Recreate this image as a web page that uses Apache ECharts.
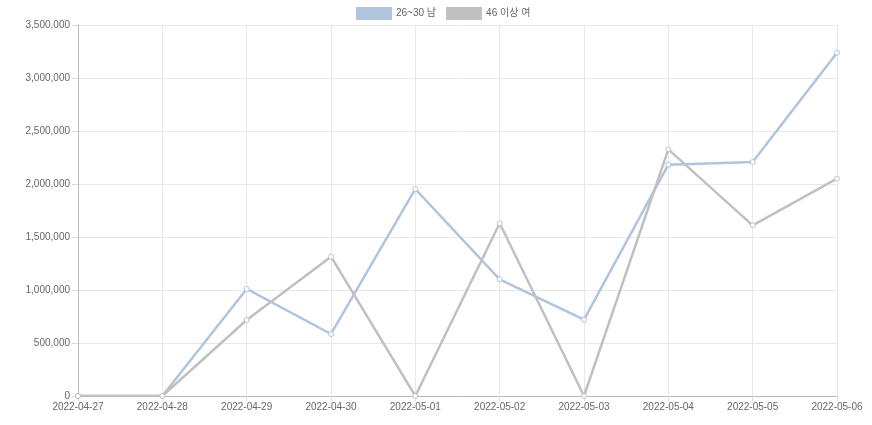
<!DOCTYPE html>
<html>
<head>
<meta charset="utf-8">
<title>chart</title>
<script src="https://cdn.jsdelivr.net/npm/echarts@6/dist/echarts.min.js"></script>
<style>
  html, body { margin: 0; padding: 0; background: #fff; }
  #chart { width: 872px; height: 425px; }
</style>
</head>
<body>
<div id="chart"></div>
<script>
// 날짜 (x축)
var dates = ['2022-04-27', '2022-04-28', '2022-04-29', '2022-04-30', '2022-05-01',
  '2022-05-02', '2022-05-03', '2022-05-04', '2022-05-05', '2022-05-06']
var seriesNames = ['26~30 남', '46 이상 여']
var male2630 = [0, 0, 1010000, 585000, 1953000, 1101000, 720000, 2182000, 2207000, 3239000]
var female46 = [0, 0, 717000, 1314000, 0, 1629000, 0, 2327000, 1610000, 2050000]

var colors = ['#b0c4de', '#c0c0c0']
var font = '"Liberation Sans", Arial, "Noto Sans CJK KR", sans-serif'

var chart = echarts.init(document.getElementById('chart'))

function lineSeries(name, data, color) {
  return {
    name: name,
    type: 'line',
    data: data,
    symbol: 'circle',
    symbolSize: 5,
    showAllSymbol: true,
    itemStyle: { color: '#fff', borderColor: color, borderWidth: 1 },
    lineStyle: { color: color, width: 2.5 },
    emphasis: { disabled: true },
    animation: false
  }
}

chart.setOption({
  textStyle: { fontFamily: font },
  legend: {
    top: 7,
    left: 356,
    padding: 0,
    itemWidth: 34,
    itemHeight: 11,
    itemGap: 10,
    icon: 'rect',
    textStyle: { color: '#666', fontSize: 10, fontFamily: font },
    data: seriesNames.map(function (n, i) {
      return { name: n, itemStyle: { color: colors[i] } }
    })
  },
  grid: { left: 78, right: 35, top: 25, bottom: 29 },
  xAxis: {
    type: 'category',
    boundaryGap: false,
    data: dates,
    axisLine: { lineStyle: { color: '#bbb' } },
    axisTick: { show: true, length: 5, lineStyle: { color: '#ddd' } },
    axisLabel: { color: '#666', fontSize: 10, interval: 0, margin: 6 },
    splitLine: { show: true, lineStyle: { color: '#e8e8e8' } }
  },
  yAxis: {
    type: 'value',
    min: 0,
    max: 3500000,
    interval: 500000,
    axisLine: { show: true, lineStyle: { color: '#bbb' } },
    axisTick: { show: true, length: 6, lineStyle: { color: '#ddd' } },
    axisLabel: {
      color: '#666',
      fontSize: 10,
      margin: 8,
      formatter: function (v) { return v.toLocaleString('en-US') }
    },
    splitLine: { lineStyle: { color: '#e8e8e8' } }
  },
  series: [
    lineSeries(seriesNames[0], male2630, colors[0]),
    lineSeries(seriesNames[1], female46, colors[1])
  ]
})
</script>
</body>
</html>
